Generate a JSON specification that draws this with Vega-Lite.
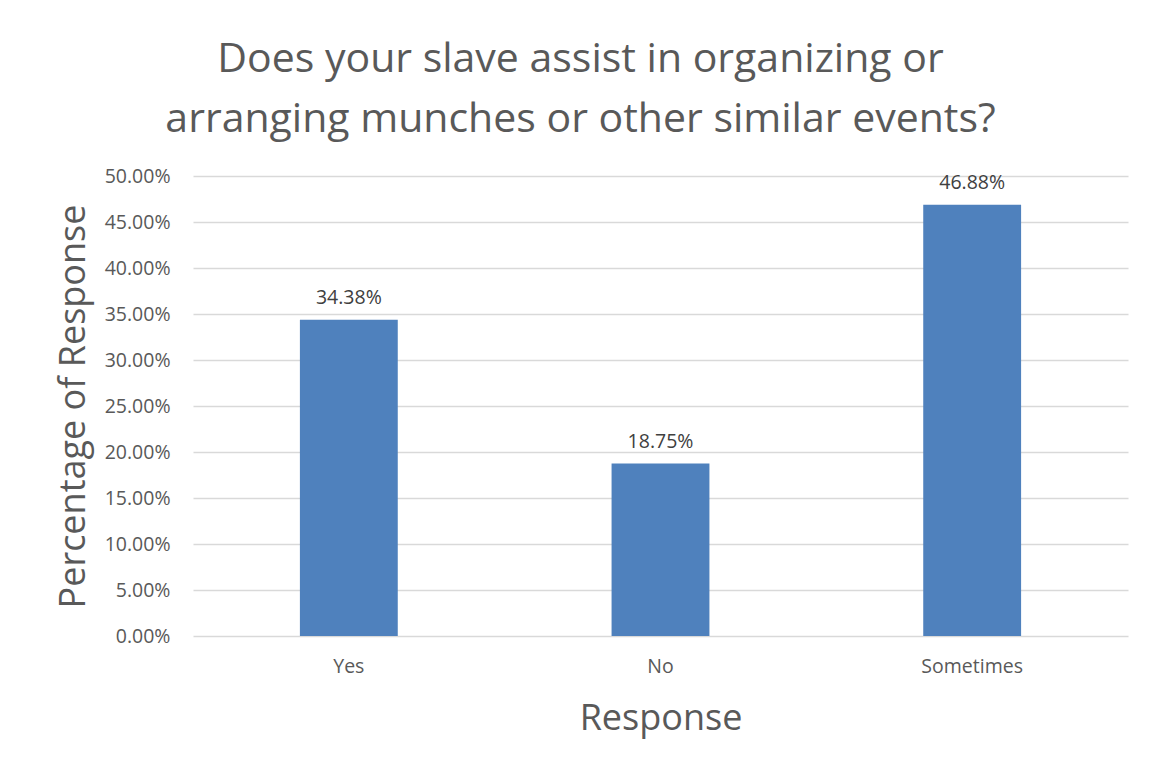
{
  "$schema": "https://vega.github.io/schema/vega-lite/v6.json",
  "autosize": "none",
  "width": 935,
  "height": 460,
  "padding": {"left": 193, "top": 176, "right": 25, "bottom": 132},
  "background": "white",
  "title": {
    "text": ["Does your slave assist in organizing or", "arranging munches or other similar events?"],
    "font": "Open Sans",
    "fontSize": 41,
    "fontWeight": "normal",
    "color": "#595959",
    "lineHeight": 60,
    "anchor": "middle",
    "dx": -80,
    "offset": 25
  },
  "data": {
    "values": [
      {"Response": "Yes", "pct": 0.3438},
      {"Response": "No", "pct": 0.1875},
      {"Response": "Sometimes", "pct": 0.4688}
    ]
  },
  "encoding": {
    "x": {
      "field": "Response",
      "type": "nominal",
      "sort": null,
      "scale": {"paddingInner": 0.686, "paddingOuter": 0.343},
      "axis": {
        "title": "Response",
        "labelAngle": 0,
        "labelFont": "Open Sans",
        "labelFontSize": 19.5,
        "labelColor": "#595959",
        "labelPadding": 21,
        "ticks": false,
        "domain": false,
        "titleFont": "Open Sans",
        "titleFontSize": 36,
        "titleFontWeight": "normal",
        "titleColor": "#595959",
        "titlePadding": 26
      }
    },
    "y": {
      "field": "pct",
      "type": "quantitative",
      "scale": {"domain": [0, 0.5], "nice": false},
      "axis": {
        "title": "Percentage of Response",
        "format": ".2%",
        "values": [0, 0.05, 0.1, 0.15, 0.2, 0.25, 0.3, 0.35, 0.4, 0.45, 0.5],
        "labelFont": "Open Sans",
        "labelFontSize": 19.5,
        "labelColor": "#595959",
        "labelPadding": 23,
        "ticks": false,
        "domain": false,
        "grid": true,
        "gridColor": "#d9d9d9",
        "gridWidth": 1.3,
        "titleFont": "Open Sans",
        "titleFontSize": 36,
        "titleFontWeight": "normal",
        "titleColor": "#595959",
        "titlePadding": 12
      }
    }
  },
  "layer": [
    {"mark": {"type": "bar", "color": "#4f81bd"}},
    {
      "mark": {"type": "text", "baseline": "bottom", "dy": -12, "font": "Open Sans", "fontSize": 19.5, "color": "#404040"},
      "encoding": {"text": {"field": "pct", "type": "quantitative", "format": ".2%"}}
    }
  ],
  "config": {"view": {"stroke": null}}
}
